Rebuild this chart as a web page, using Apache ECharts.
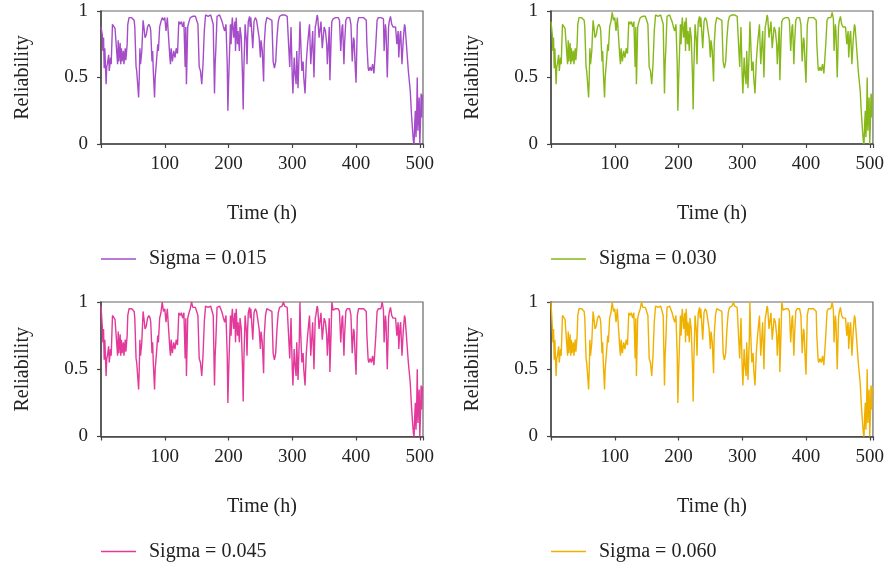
<!DOCTYPE html>
<html>
<head>
<meta charset="utf-8">
<script src="https://cdn.jsdelivr.net/npm/echarts@6.0.0/dist/echarts.min.js"></script>
<style>
html, body { margin: 0; padding: 0; background: #fff; }
#chart { width: 887px; height: 562px; }
</style>
</head>
<body>
<div id="chart"></div>
<script>
// Sampling instants (h), shared by the four reliability traces
const hours = [
  0, 2, 3, 4, 5, 6, 8, 9, 10, 12,
  13, 15, 16, 18, 20, 22, 24, 26, 27, 28,
  30, 31, 32, 33, 35, 36, 38, 39, 41, 42,
  44, 46, 48, 50, 52, 53, 55, 56, 59, 60,
  61, 62, 64, 66, 68, 69, 71, 73, 75, 77,
  78, 80, 81, 82, 84, 85, 87, 89, 90, 92,
  94, 96, 98, 100, 102, 104, 106, 108, 109, 110,
  112, 114, 116, 118, 120, 122, 124, 126, 128, 130,
  132, 133, 134, 136, 138, 140, 142, 144, 146, 148,
  150, 152, 154, 156, 158, 160, 162, 164, 166, 168,
  170, 172, 174, 176, 178, 179, 180, 182, 184, 186,
  188, 190, 192, 194, 196, 198, 199, 200, 201, 203,
  204, 205, 206, 208, 210, 211, 212, 214, 215, 217,
  218, 220, 222, 223, 224, 226, 228, 229, 230, 231,
  233, 234, 235, 237, 238, 240, 242, 244, 246, 248,
  250, 251, 253, 255, 256, 258, 260, 262, 264, 266,
  268, 270, 272, 274, 276, 278, 280, 282, 284, 286,
  288, 290, 292, 294, 296, 298, 300, 301, 303, 304,
  306, 307, 309, 311, 312, 313, 315, 317, 318, 320,
  322, 324, 327, 329, 332, 334, 336, 337, 339, 340,
  342, 345, 347, 350, 352, 354, 355, 357, 358, 359,
  361, 362, 364, 366, 368, 370, 372, 374, 376, 378,
  379, 381, 382, 384, 386, 388, 390, 392, 394, 396,
  397, 399, 400, 402, 404, 406, 408, 410, 412, 414,
  416, 417, 419, 420, 422, 424, 426, 428, 429, 431,
  433, 435, 437, 439, 441, 443, 444, 446, 447, 449,
  451, 452, 454, 456, 458, 460, 462, 464, 466, 467,
  469, 470, 472, 474, 476, 477, 479, 482, 485, 487,
  489, 490, 491, 492, 493, 494, 495, 496, 497, 498,
  499, 500, 501, 502, 503, 504, 505
];

// Reliability, sigma = 0.015
const sigma015 = [
  .88, .82, .70, .80, .57, .72, .45, .58, .60, .67,
  .55, .65, .60, .90, .89, .87, .88, .60, .78, .62,
  .76, .60, .72, .62, .70, .60, .72, .63, .75, .90,
  .95, .96, .95, .96, .93, .88, .58, .55, .35, .50,
  .72, .60, .70, .93, .85, .80, .82, .88, .90, .88,
  .85, .62, .70, .55, .35, .50, .62, .75, .70, .88,
  .92, .95, .93, .95, .85, .95, .94, .65, .60, .72,
  .62, .70, .65, .72, .68, .92, .90, .92, .88, .92,
  .58, .88, .45, .88, .92, .95, .96, .96, .95, .96,
  .95, .90, .58, .55, .45, .60, .85, .97, .97, .96,
  .97, .97, .96, .90, .38, .60, .70, .96, .97, .97,
  .96, .92, .88, .85, .90, .60, .25, .45, .60, .90,
  .75, .88, .95, .80, .92, .70, .95, .75, .85, .70,
  .88, .80, .50, .26, .55, .90, .78, .60, .80, .92,
  .96, .88, .95, .80, .72, .92, .95, .93, .94, .80,
  .65, .78, .70, .47, .75, .90, .95, .95, .94, .95,
  .93, .62, .57, .62, .80, .92, .96, .97, .97, .98,
  .97, .98, .96, .97, .58, .88, .50, .38, .65, .55,
  .45, .70, .42, .72, .92, .80, .55, .62, .50, .38,
  .62, .75, .90, .60, .85, .50, .88, .90, .97, .95,
  .80, .92, .72, .88, .85, .75, .60, .78, .88, .48,
  .80, .92, .94, .95, .95, .96, .95, .93, .70, .88,
  .90, .60, .75, .93, .95, .94, .95, .90, .62, .80,
  .78, .55, .46, .90, .95, .96, .95, .96, .95, .95,
  .93, .75, .57, .55, .58, .55, .60, .53, .60, .75,
  .93, .95, .94, .95, .95, .94, .70, .90, .85, .50,
  .88, .92, .96, .90, .88, .87, .88, .75, .85, .65,
  .82, .85, .60, .78, .90, .88, .75, .55, .40, .22,
  .08, .02, 0, .15, .25, .05, .20, .50, .10, .25,
  .35, 0, .15, .38, .20, .37, .37
];

// Reliability, sigma = 0.030
const sigma030 = [
  .92, .82, .70, .80, .57, .72, .45, .58, .60, .67,
  .55, .65, .60, .90, .89, .87, .88, .60, .78, .62,
  .76, .60, .72, .62, .70, .60, .72, .63, .75, .90,
  .95, .96, .95, .96, .93, .88, .58, .55, .35, .50,
  .72, .60, .70, .93, .85, .80, .82, .88, .90, .88,
  .85, .62, .70, .55, .35, .50, .62, .75, .70, .88,
  .92, .99, .93, .95, .85, .95, .94, .65, .60, .72,
  .62, .70, .65, .72, .68, .92, .90, .92, .88, .92,
  .58, .88, .45, .88, .92, .95, .96, .96, .95, .96,
  .95, .90, .58, .55, .45, .60, .85, .97, .97, .96,
  .97, .97, .96, .90, .38, .60, .70, .96, .97, .97,
  .96, .92, .88, .85, .90, .60, .25, .45, .60, .90,
  .75, .88, .95, .80, .92, .70, .95, .75, .85, .70,
  .88, .80, .50, .26, .55, .90, .78, .60, .80, .92,
  .96, .88, .95, .80, .72, .92, .95, .93, .94, .80,
  .65, .78, .70, .47, .75, .90, .95, .95, .94, .95,
  .93, .62, .57, .62, .80, .92, .96, .97, .97, .98,
  .97, .98, .96, .97, .58, .88, .50, .38, .65, .55,
  .45, .70, .42, .72, .92, .80, .55, .62, .50, .38,
  .62, .75, .90, .60, .85, .50, .88, .90, .97, .95,
  .80, .92, .72, .88, .85, .75, .60, .78, .88, .48,
  .80, .92, .94, .95, .95, .96, .95, .93, .70, .88,
  .90, .60, .75, .93, .95, .94, .95, .90, .62, .80,
  .78, .55, .46, .90, .95, .96, .95, .96, .95, .95,
  .93, .75, .57, .55, .58, .55, .60, .53, .60, .75,
  .93, .95, .94, .95, .99, .94, .70, .90, .85, .50,
  .88, .92, .96, .90, .88, .87, .88, .75, .85, .65,
  .82, .85, .60, .78, .90, .88, .75, .55, .40, .22,
  .08, .02, 0, .15, .25, .05, .20, .50, .10, .25,
  .35, 0, .15, .38, .20, .37, .37
];

// Reliability, sigma = 0.045
const sigma045 = [
  .97, .82, .70, .80, .57, .72, .45, .58, .60, .67,
  .55, .65, .60, .90, .89, .87, .88, .60, .78, .62,
  .76, .60, .72, .62, .70, .60, .72, .63, .75, .90,
  .95, .96, .95, .96, .93, .88, .58, .55, .35, .50,
  .72, .60, .70, .93, .85, .80, .82, .88, .90, .88,
  .85, .62, .70, .55, .35, .50, .62, .75, .70, .88,
  .92, 1.0, .93, .95, .85, .95, .94, .65, .60, .72,
  .62, .70, .65, .72, .68, .92, .90, .92, .88, .92,
  .58, .88, .45, .88, .92, .95, 1.0, .96, .95, .96,
  .95, .90, .58, .55, .45, .60, .85, .97, .97, .96,
  .97, .97, .96, .90, .38, .60, .70, .96, .97, .97,
  .96, .92, .88, .85, .90, .60, .25, .45, .60, .90,
  .75, .88, .95, .80, .92, .70, .95, .75, .85, .70,
  .88, .80, .50, .26, .55, .90, .78, .60, .80, .92,
  .96, .88, .95, .80, .72, .92, .95, .93, .94, .80,
  .65, .78, .70, .47, .75, .90, .95, .95, .94, .95,
  .93, .62, .57, .62, .80, .92, .96, .97, .97, 1.0,
  .97, .98, .96, .97, .58, .88, .50, .38, .65, .55,
  .45, .70, .42, .72, 1.0, .80, .55, .62, .50, .38,
  .62, .75, .90, .60, .85, .50, .88, .90, .97, .95,
  .80, .92, .72, .88, .85, .75, .60, .78, .88, .48,
  .80, 1.0, .94, .95, .95, .96, .95, .93, .70, .88,
  .90, .60, .75, .93, .95, .94, .95, .90, .62, .80,
  .78, .55, .46, .90, .95, .96, .95, .96, .95, .95,
  .93, .75, .57, .55, .58, .55, .60, .53, .60, .75,
  .93, .95, .94, .95, 1.0, .94, .70, .90, .85, .50,
  .88, .92, .96, .90, .88, .87, .88, .75, .85, .65,
  .82, .85, .60, .78, .90, .88, .75, .55, .40, .22,
  .08, .02, 0, .15, .25, .05, .20, .50, .10, .25,
  .35, 0, .15, .38, .20, .37, .37
];

// Reliability, sigma = 0.060
const sigma060 = [
  1.0, .82, .70, .80, .57, .72, .45, .58, .60, .67,
  .55, .65, .60, .90, .89, .87, .88, .60, .78, .62,
  .76, .60, .72, .62, .70, .60, .72, .63, .75, .90,
  .95, .96, .95, .96, .93, .88, .58, .55, .35, .50,
  .72, .60, .70, .93, .85, .80, .82, .88, .90, .88,
  .85, .62, .70, .55, .35, .50, .62, .75, .70, .88,
  .92, 1.0, .93, .95, .85, .95, .94, .65, .60, .72,
  .62, .70, .65, .72, .68, .92, .90, .92, .88, .92,
  .58, .88, .45, .88, .92, .95, 1.0, .96, .95, .96,
  .95, .90, .58, .55, .45, .60, .85, .97, .97, .96,
  .97, .97, .96, .90, .38, .60, .70, .96, .97, .97,
  .96, .92, .88, .85, .90, .60, .25, .45, .60, .90,
  .75, .88, .95, .80, .92, .70, .95, .75, .85, .70,
  .88, .80, .50, .26, .55, .90, .78, .60, .80, .92,
  .96, .88, .95, .80, .72, .92, .95, .93, .94, .80,
  .65, .78, .70, .47, .75, .90, .95, .95, .94, .95,
  .93, .62, .57, .62, .80, .92, .96, .97, .97, 1.0,
  .97, .98, .96, .97, .58, .88, .50, .38, .65, .55,
  .45, .70, .42, .72, 1.0, .80, .55, .62, .50, .38,
  .62, .75, .90, .60, .85, .50, .88, .90, .97, .95,
  .80, .92, .72, .88, .85, .75, .60, .78, .88, .48,
  .80, 1.0, .94, .95, .95, .96, .95, .93, .70, .88,
  .90, .60, .75, .93, .95, .94, .95, .90, .62, .80,
  .78, .55, .46, .90, .95, .96, .95, .96, .95, .95,
  .93, .75, .57, .55, .58, .55, .60, .53, .60, .75,
  .93, .95, .94, .95, 1.0, .94, .70, .90, .85, .50,
  .88, .92, .96, .90, .88, .87, .88, .75, .85, .65,
  .82, .85, .60, .78, .90, .88, .75, .55, .40, .22,
  .08, .02, 0, .15, .25, .05, .20, .50, .10, .25,
  .35, 0, .15, .38, .20, .37, .37
];

const seriesNames = ['Sigma = 0.015', 'Sigma = 0.030', 'Sigma = 0.045', 'Sigma = 0.060'];
const seriesValues = [sigma015, sigma030, sigma045, sigma060];
const seriesColors = ['#a54dc9', '#86b81a', '#e3399a', '#f0b000'];
const xLabelTicks = [100, 200, 300, 400, 500];

const FONT = '"Liberation Serif", "Times New Roman", serif';
const TEXT = '#222';

// Panel boxes: [left, top, width, height]
const panels = [
  [101, 11, 322, 133],
  [551, 11, 323, 133],
  [101, 302, 322, 134.5],
  [551, 302, 323, 134.5]
];

const grid = [], xAxis = [], yAxis = [], series = [], legend = [];
panels.forEach(function (p, i) {
  grid.push({
    left: p[0], top: p[1], width: p[2], height: p[3],
    show: true, borderColor: '#666', borderWidth: 1.2, backgroundColor: 'transparent'
  });
  xAxis.push({
    type: 'value', gridIndex: i, min: 0, max: 505, interval: 100,
    name: 'Time (h)', nameLocation: 'middle', nameGap: 60,
    nameTextStyle: { fontFamily: FONT, fontSize: 20, color: TEXT },
    axisLine: { show: true, lineStyle: { color: '#444', width: 1.5 } },
    axisTick: { show: true, length: 4, lineStyle: { color: '#444', width: 1.2 } },
    splitLine: { show: false },
    axisLabel: {
      fontFamily: FONT, fontSize: 19, color: TEXT, margin: 11,
      formatter: function (v) { return xLabelTicks.indexOf(v) >= 0 ? String(v) : ''; }
    }
  });
  yAxis.push({
    type: 'value', gridIndex: i, min: 0, max: 1, interval: 0.5,
    name: 'Reliability', nameLocation: 'middle', nameGap: 68,
    nameTextStyle: { fontFamily: FONT, fontSize: 20, color: TEXT },
    axisLine: { show: true, lineStyle: { color: '#444', width: 1.5 } },
    axisTick: { show: true, length: 4, lineStyle: { color: '#444', width: 1.2 } },
    splitLine: { show: false },
    axisLabel: { fontFamily: FONT, fontSize: 19, color: TEXT, margin: 13 }
  });
  series.push({
    name: seriesNames[i], type: 'line', xAxisIndex: i, yAxisIndex: i,
    data: hours.map(function (h, k) { return [h, seriesValues[i][k]]; }),
    symbol: 'none', showSymbol: false, animation: false,
    lineStyle: { color: seriesColors[i], width: 1.4 },
    itemStyle: { color: seriesColors[i] }
  });
  legend.push({
    data: [seriesNames[i]], left: p[0], top: p[1] + p[3] + 105, padding: 0,
    icon: 'rect', itemWidth: 35, itemHeight: 1.4,
    itemStyle: { color: seriesColors[i] },
    textStyle: { fontFamily: FONT, fontSize: 20, color: TEXT, padding: [0, 0, 0, 8] }
  });
});

const chart = echarts.init(document.getElementById('chart'), null, { renderer: 'canvas' });
chart.setOption({
  backgroundColor: '#fff',
  animation: false,
  grid: grid, xAxis: xAxis, yAxis: yAxis, series: series, legend: legend
});
</script>
</body>
</html>
